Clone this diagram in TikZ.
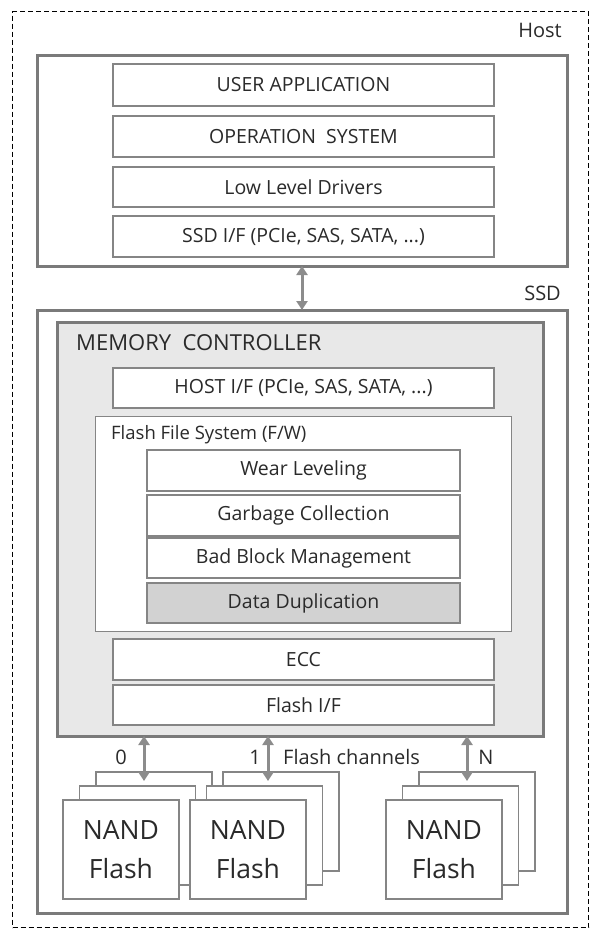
\documentclass[tikz,border=0pt]{standalone}
\usepackage{fontspec}
\setmainfont{Open Sans}
\usetikzlibrary{arrows.meta}
\definecolor{frame}{HTML}{7A7A7A}
\definecolor{edge}{HTML}{858585}
\definecolor{mcfill}{HTML}{E8E8E8}
\definecolor{dupfill}{HTML}{D2D2D2}
\definecolor{txt}{HTML}{2A2A2A}
\definecolor{arr}{HTML}{8C8C8C}
\begin{document}
\begin{tikzpicture}[x=1pt,y=-1pt,
  bigframe/.style={draw=frame,line width=3pt,anchor=north west,inner sep=0pt,outer sep=0pt},
  layerbox/.style={draw=edge,line width=1.4pt,fill=white,anchor=north west,inner sep=0pt,outer sep=0pt,text=txt,font=\fontsize{19.5}{23}\selectfont},
  chip/.style={draw=edge,line width=1.4pt,fill=white,anchor=north west,inner sep=0pt,outer sep=0pt,minimum width=116pt,minimum height=99pt,text=txt,align=center,font=\fontsize{26.5}{39}\selectfont},
  lbl/.style={text=txt,inner sep=0pt,font=\fontsize{20}{24}\selectfont},
  dbl/.style={draw=arr,line width=3pt,{Triangle[width=11pt,length=9pt]}-{Triangle[width=11pt,length=9pt]}}
]
\useasboundingbox (0,0) rectangle (590,930);
\node[draw=black,line width=1.1pt,dash pattern=on 5pt off 3pt,anchor=north west,inner sep=0pt,minimum width=576pt,minimum height=916pt] (outer) at (12,11) {};

% Host
\node[lbl,anchor=east] (hostlbl) at (562,30) {Host};
\node[bigframe,minimum width=530pt,minimum height=211pt] (host) at (37,55) {};
\node[layerbox,minimum width=381pt,minimum height=42pt] (ua) at (113,64) {USER APPLICATION};
\node[layerbox,minimum width=381pt,minimum height=41pt] (os) at (113,116) {OPERATION\ \ SYSTEM};
\node[layerbox,minimum width=381pt,minimum height=40pt] (lld) at (113,167) {Low Level Drivers};
\node[layerbox,minimum width=381pt,minimum height=41pt] (ssdif) at (113,216) {SSD I/F (PCIe, SAS, SATA, ...)};

% SSD
\node[lbl,anchor=east] (ssdlbl) at (561,293) {SSD};
\node[bigframe,minimum width=530pt,minimum height=603pt] (ssd) at (37,310) {};
\draw[dbl] (host.south) -- (ssd.north);

\node[bigframe,fill=mcfill,minimum width=486pt,minimum height=414pt] (mc) at (57,322) {};
\node[text=txt,anchor=west,inner sep=0pt,font=\fontsize{22}{26}\selectfont] (mclbl) at (76,343) {MEMORY\ \ CONTROLLER};
\node[layerbox,minimum width=381pt,minimum height=40pt] (hif) at (113,368) {HOST I/F (PCIe, SAS, SATA, ...)};
\node[draw=edge,line width=1.4pt,fill=white,anchor=north west,inner sep=0pt,minimum width=416pt,minimum height=215pt] (ffs) at (95,416) {};
\node[text=txt,anchor=west,inner sep=0pt,font=\fontsize{18.5}{22}\selectfont] (ffslbl) at (111,435) {Flash File System (F/W)};
\node[layerbox,minimum width=313pt,minimum height=41pt] (wl) at (147,450) {Wear Leveling};
\node[layerbox,minimum width=313pt,minimum height=41pt] (gc) at (147,495) {Garbage Collection};
\node[layerbox,minimum width=313pt,minimum height=40pt] (bbm) at (147,538) {Bad Block Management};
\node[layerbox,fill=dupfill,minimum width=313pt,minimum height=40pt] (dd) at (147,583) {Data Duplication};
\node[layerbox,minimum width=381pt,minimum height=41pt] (ecc) at (113,639) {ECC};
\node[layerbox,minimum width=381pt,minimum height=40pt] (fif) at (113,685) {Flash I/F};

% NAND stacks
\foreach \n/\x in {a/63,b/190,c/386} {
  \node[chip] (\n3) at (\x+33,772) {};
  \node[chip] (\n2) at (\x+16.5,786) {};
  \node[chip] (\n1) at (\x,800) {NAND\\Flash};
}

% channels
\coordinate (c0) at (144,781);
\coordinate (c1) at (268,781);
\coordinate (cN) at (467,781);
\draw[dbl] (mc.south -| c0) -- (c0);
\draw[dbl] (mc.south -| c1) -- (c1);
\draw[dbl] (mc.south -| cN) -- (cN);
\node[lbl] (l0) at (121,757) {0};
\node[lbl] (l1) at (255,757) {1};
\node[lbl,anchor=west] (lfc) at (283,757) {Flash channels};
\node[lbl] (lN) at (486,757) {N};
\end{tikzpicture}
\end{document}
